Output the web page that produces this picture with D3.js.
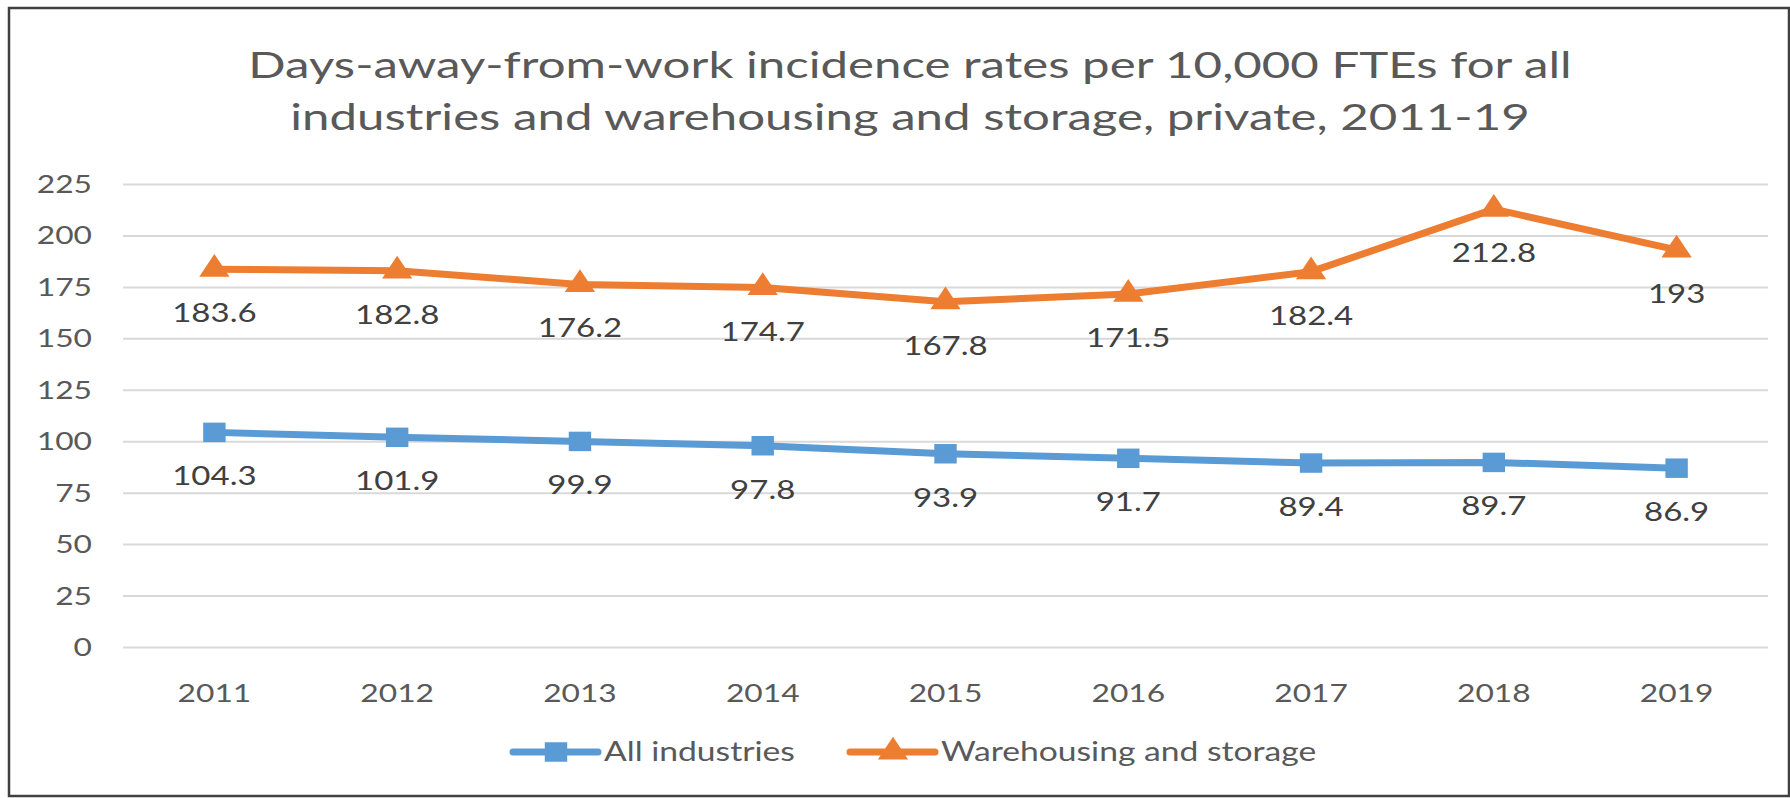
<!DOCTYPE html>
<html>
<head>
<meta charset="utf-8">
<script src="https://cdn.jsdelivr.net/npm/d3@7"></script>
<style>
  body { margin: 0; background: #fff; }
  text { font-family: Lato, "Open Sans", sans-serif; }
</style>
</head>
<body>
<div id="chart"></div>
<script>
// data
var years = ['2011','2012','2013','2014','2015','2016','2017','2018','2019'];
var allIndustries = [104.3, 101.9, 99.9, 97.8, 93.9, 91.7, 89.4, 89.7, 86.9];
var warehousing = [183.6, 182.8, 176.2, 174.7, 167.8, 171.5, 182.4, 212.8, 193];
var yTicks = [0, 25, 50, 75, 100, 125, 150, 175, 200, 225];
var seriesNames = ['All industries', 'Warehousing and storage'];
var titleLines = ['Days-away-from-work incidence rates per 10,000 FTEs for all',
                  'industries and warehousing and storage, private, 2011-19'];

var W = 1790, H = 798;
var stretch = 1.27; // the source picture is wider than it is tall
var blue = '#5b9bd5', orange = '#ed7d31';

var svg = d3.select('#chart').append('svg')
    .attr('width', W)
    .attr('height', H);

svg.append('rect')
    .attr('x', 9).attr('y', 8)
    .attr('width', 1780).attr('height', 788)
    .attr('fill', '#fff')
    .attr('stroke', '#404040')
    .attr('stroke-width', 2.5);

// stretched text helper
function label(g, x, y, txt, size, color, anchor, k) {
    return g.append('text')
        .attr('transform', 'translate(' + x + ',' + y + ') scale(' + (k || stretch) + ',1)')
        .attr('text-anchor', anchor || 'middle')
        .style('font-size', size + 'px')
        .attr('fill', color)
        .text(txt);
}

titleLines.forEach(function(t, i) {
    label(svg, 910, 78 + i * 52, t, 37, '#595959', 'middle', 1.33);
});

var x = d3.scalePoint()
    .domain(years)
    .range([123, 1768])
    .padding(0.5);

var y = d3.scaleLinear()
    .domain([0, 225])
    .range([647, 184]);

// gridlines + y labels
var yAxis = svg.append('g')
    .attr('transform', 'translate(123,0)')
    .call(d3.axisLeft(y).tickValues(yTicks).tickSize(-1645).tickFormat(''));
yAxis.select('.domain').remove();
yAxis.selectAll('.tick line')
    .attr('stroke', '#d9d9d9')
    .attr('stroke-width', 2);

yTicks.forEach(function(v) {
    label(svg, 92, y(v) + 9, String(v), 25, '#595959', 'end');
});

years.forEach(function(yr) {
    label(svg, x(yr), 702, yr, 25, '#595959');
});

function drawSeries(vals, color, shape) {
    var line = d3.line()
        .x(function(d, i) { return x(years[i]); })
        .y(function(d) { return y(d); });
    svg.append('path')
        .datum(vals)
        .attr('d', line)
        .attr('fill', 'none')
        .attr('stroke', color)
        .attr('stroke-width', 7)
        .attr('stroke-linejoin', 'round');
    svg.selectAll(null)
        .data(vals)
        .enter()
        .append('path')
        .attr('d', d3.symbol().type(shape).size(shape === d3.symbolSquare ? 380 : 300))
        .attr('transform', function(d, i) {
            return 'translate(' + x(years[i]) + ',' + y(d) + ') scale(1.15,1)';
        })
        .attr('fill', color);
    vals.forEach(function(v, i) {
        label(svg, x(years[i]), y(v) + 53, String(v), 26, '#404040');
    });
}

drawSeries(warehousing, orange, d3.symbolTriangle);
drawSeries(allIndustries, blue, d3.symbolSquare);

// legend
var legend = [
    {name: seriesNames[0], color: blue, shape: d3.symbolSquare, x0: 513},
    {name: seriesNames[1], color: orange, shape: d3.symbolTriangle, x0: 850}
];
legend.forEach(function(l) {
    svg.append('line')
        .attr('x1', l.x0).attr('x2', l.x0 + 85)
        .attr('y1', 752).attr('y2', 752)
        .attr('stroke', l.color)
        .attr('stroke-width', 7)
        .attr('stroke-linecap', 'round');
    svg.append('path')
        .attr('d', d3.symbol().type(l.shape).size(l.shape === d3.symbolSquare ? 380 : 300))
        .attr('transform', 'translate(' + (l.x0 + 43) + ',752) scale(1.15,1)')
        .attr('fill', l.color);
    label(svg, l.x0 + 91, 761, l.name, 26.5, '#595959', 'start');
});
</script>
</body>
</html>
